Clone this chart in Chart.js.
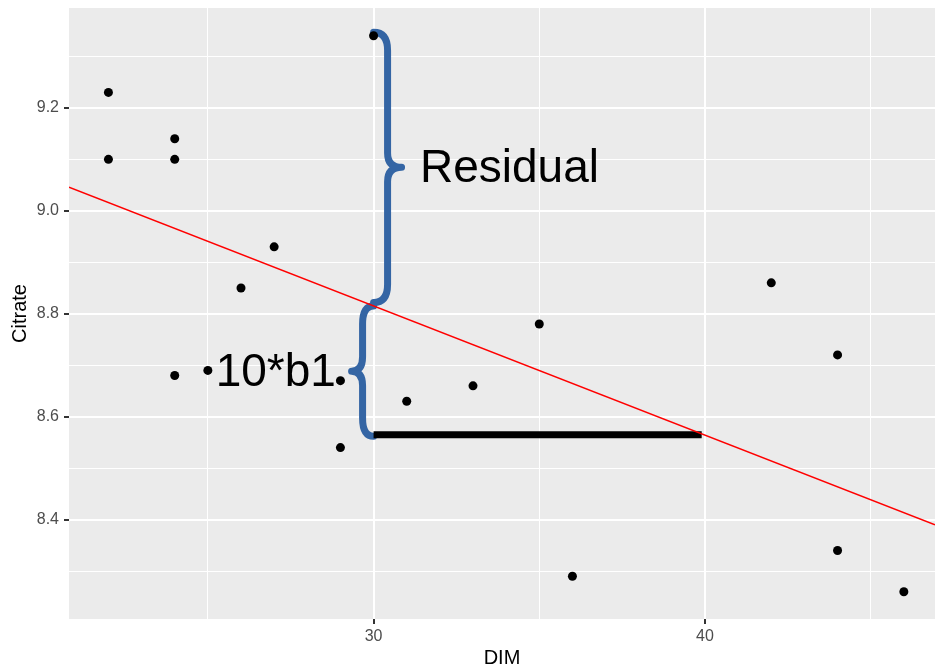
<!DOCTYPE html>
<html>
<head>
<meta charset="utf-8">
<script src="https://cdn.jsdelivr.net/npm/chart.js@4"></script>
<style>
  body { margin: 0; background: #fff; }
  canvas { display: block; }
</style>
</head>
<body>
<canvas id="chart" width="935" height="670"></canvas>
<script>
// observed points
const dim = [22, 22, 24, 24, 24, 25, 26, 27, 29, 29, 30, 31, 33, 35, 36, 42, 44, 44, 46];
const citrate = [9.23, 9.10, 9.14, 9.10, 8.68, 8.69, 8.85, 8.93, 8.54, 8.67, 9.34, 8.63, 8.66, 8.78, 8.29, 8.86, 8.72, 8.34, 8.26];

// fitted line (end points at the panel edges)
const fitX = [20.81, 46.94];
const fitY = [9.046, 8.39];

// horizontal run of 10 along DIM
const runX = [30, 39.9];
const runY = [8.565, 8.565];

// braces: x, y from, y to
const residualBrace = [30, 9.347, 8.822];
const slopeBrace = [30, 8.815, 8.562];

// labels: text, x, y
const labelText = ["Residual", "10*b1"];
const labelX = [34.1, 27.05];
const labelY = [9.081, 8.685];

const xRange = [20.81, 46.94];
const yRange = [8.207, 9.394];
const xTicks = [30, 40];
const xMinor = [25, 35, 45];
const yTicks = [8.4, 8.6, 8.8, 9.0, 9.2];
const yMinor = [8.3, 8.5, 8.7, 8.9, 9.1, 9.3];

const FONT = "'Liberation Sans', Arial, sans-serif";
const BLUE = "#3465a4";

function isMajor(list, v) {
  return list.some((t) => Math.abs(t - v) < 1e-6);
}

const panelBg = {
  id: "panelBg",
  beforeDraw(chart) {
    const a = chart.chartArea;
    const ctx = chart.ctx;
    ctx.save();
    ctx.fillStyle = "#ebebeb";
    ctx.fillRect(a.left, a.top, a.right - a.left, a.bottom - a.top);
    ctx.restore();
  }
};

function drawBrace(chart, b, dir, w) {
  const xs = chart.scales.x, ys = chart.scales.y;
  const ctx = chart.ctx;
  const x0 = xs.getPixelForValue(b[0]);
  const top = ys.getPixelForValue(b[1]);
  const bot = ys.getPixelForValue(b[2]);
  const mid = (top + bot) / 2;
  const o = w * dir;
  const r = 18;
  ctx.save();
  ctx.strokeStyle = BLUE;
  ctx.lineWidth = 7;
  ctx.lineCap = "round";
  ctx.lineJoin = "round";
  ctx.beginPath();
  ctx.moveTo(x0, top);
  ctx.quadraticCurveTo(x0 + o, top, x0 + o, top + r);
  ctx.lineTo(x0 + o, mid - r * 0.8);
  ctx.quadraticCurveTo(x0 + o, mid, x0 + 2 * o, mid);
  ctx.quadraticCurveTo(x0 + o, mid, x0 + o, mid + r * 0.8);
  ctx.lineTo(x0 + o, bot - r);
  ctx.quadraticCurveTo(x0 + o, bot, x0, bot);
  ctx.stroke();
  ctx.restore();
}

const annotations = {
  id: "annotations",
  beforeDatasetsDraw(chart) {
    drawBrace(chart, residualBrace, 1, 14);
    drawBrace(chart, slopeBrace, -1, 11);
  },
  afterDatasetsDraw(chart) {
    const ctx = chart.ctx;
    ctx.save();
    ctx.fillStyle = "#000";
    ctx.font = "46px " + FONT;
    ctx.textAlign = "center";
    ctx.textBaseline = "middle";
    labelText.forEach((t, i) => {
      ctx.fillText(t, chart.scales.x.getPixelForValue(labelX[i]), chart.scales.y.getPixelForValue(labelY[i]));
    });
    ctx.restore();
  }
};

const ctx = document.getElementById("chart").getContext("2d");
new Chart(ctx, {
  type: "scatter",
  data: {
    datasets: [
      {
        label: "run",
        data: runX.map((x, i) => ({ x: x, y: runY[i] })),
        showLine: true,
        borderColor: "#000",
        borderWidth: 7,
        borderCapStyle: "butt",
        pointRadius: 0,
        order: 3
      },
      {
        label: "fit",
        data: fitX.map((x, i) => ({ x: x, y: fitY[i] })),
        showLine: true,
        borderColor: "#ff0000",
        borderWidth: 1.6,
        pointRadius: 0,
        order: 2
      },
      {
        label: "points",
        data: dim.map((x, i) => ({ x: x, y: citrate[i] })),
        backgroundColor: "#000",
        borderWidth: 0,
        pointRadius: 4.5,
        order: 1
      }
    ]
  },
  options: {
    responsive: false,
    animation: false,
    devicePixelRatio: 1,
    layout: { autoPadding: false, padding: { top: 8, right: 0, left: 0, bottom: 0 } },
    plugins: { legend: { display: false }, tooltip: { enabled: false } },
    scales: {
      x: {
        type: "linear",
        min: xRange[0],
        max: xRange[1],
        afterBuildTicks: (s) => {
          s.ticks = xMinor.concat(xTicks).sort((a, b) => a - b).map((v) => ({ value: v }));
        },
        afterFit: (s) => {
          s.height = 51;
          s.paddingLeft = 0;
          s.paddingRight = 0;
        },
        border: { display: false },
        grid: {
          color: "#ffffff",
          lineWidth: (c) => (isMajor(xTicks, c.tick.value) ? 2 : 1),
          tickColor: (c) => (isMajor(xTicks, c.tick.value) ? "#333333" : "rgba(0,0,0,0)"),
          tickLength: 5,
          tickWidth: 2
        },
        ticks: {
          color: "#4d4d4d",
          font: { family: FONT, size: 16 },
          padding: 3,
          maxRotation: 0,
          callback: (v) => (isMajor(xTicks, v) ? String(v) : "")
        },
        title: {
          display: true,
          text: "DIM",
          color: "#000",
          font: { family: FONT, size: 20 },
          padding: { top: 1, bottom: 0 }
        }
      },
      y: {
        type: "linear",
        min: yRange[0],
        max: yRange[1],
        afterBuildTicks: (s) => {
          s.ticks = yMinor.concat(yTicks).sort((a, b) => a - b).map((v) => ({ value: v }));
        },
        afterFit: (s) => {
          s.width = 69;
          s.paddingTop = 0;
          s.paddingBottom = 0;
        },
        border: { display: false },
        grid: {
          color: "#ffffff",
          lineWidth: (c) => (isMajor(yTicks, c.tick.value) ? 2 : 1),
          tickColor: (c) => (isMajor(yTicks, c.tick.value) ? "#333333" : "rgba(0,0,0,0)"),
          tickLength: 5,
          tickWidth: 2
        },
        ticks: {
          color: "#4d4d4d",
          font: { family: FONT, size: 16 },
          padding: 5,
          callback: (v) => (isMajor(yTicks, v) ? v.toFixed(1) : "")
        },
        title: {
          display: true,
          text: "Citrate",
          color: "#000",
          font: { family: FONT, size: 20 },
          padding: { top: 8, bottom: 0 }
        }
      }
    }
  },
  plugins: [panelBg, annotations]
});
</script>
</body>
</html>
